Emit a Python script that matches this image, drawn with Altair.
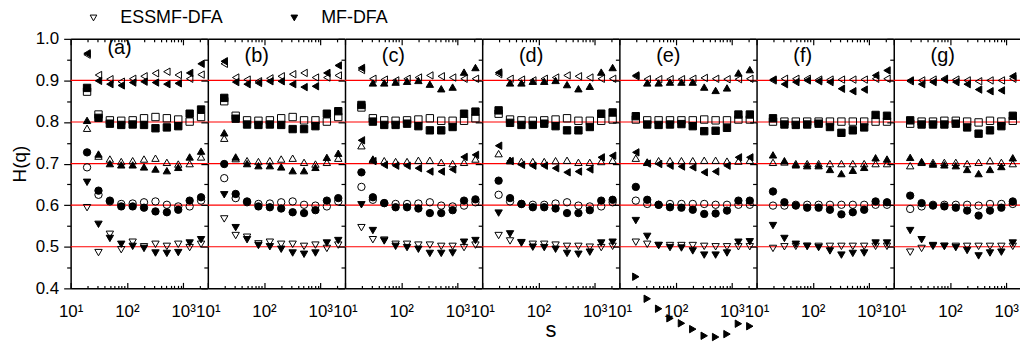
import altair as alt
import pandas as pd

# ---------------- data ----------------
S = [19.6, 31.3, 49.9, 79.5, 127, 202, 323, 515, 821, 1310, 2090]
LEVELS = [0.5, 0.6, 0.7, 0.8, 0.9]
METHODS = ["ESSMF-DFA", "MF-DFA"]
PANEL_KEYS = ["a", "b", "c", "d", "e", "f", "g"]
PANEL_LABELS = ["(a)", "(b)", "(c)", "(d)", "(e)", "(f)", "(g)"]
X_DOMAIN = [10, 2700]
Y_DOMAIN = [0.4, 1.0]
X_TICKS = [10, 20, 30, 40, 50, 60, 70, 80, 90, 100, 200, 300, 400, 500, 600,
           700, 800, 900, 1000, 2000]
Y_TICKS = [0.4, 0.45, 0.5, 0.55, 0.6, 0.65, 0.7, 0.75, 0.8, 0.85, 0.9, 0.95, 1.0]

E, M = "ESSMF-DFA", "MF-DFA"
N = None

PANEL_A = {
    (E, 0.9): [0.962, 0.913, 0.903, 0.897, 0.904, 0.910, 0.917, 0.921, 0.913, 0.904, 0.914],
    (M, 0.9): [0.965, 0.899, 0.891, 0.888, 0.895, 0.897, 0.895, 0.891, 0.893, 0.918, 0.940],
    (E, 0.8): [0.873, 0.818, 0.804, 0.803, 0.804, 0.809, 0.812, 0.809, 0.806, 0.801, 0.812],
    (M, 0.8): [0.882, 0.810, 0.796, 0.793, 0.794, 0.793, 0.785, 0.787, 0.790, 0.820, 0.830],
    (E, 0.7): [0.785, 0.718, 0.711, 0.705, 0.707, 0.711, 0.713, 0.703, 0.699, 0.700, 0.716],
    (M, 0.7): [0.804, 0.723, 0.700, 0.697, 0.697, 0.692, 0.687, 0.683, 0.691, 0.716, 0.730],
    (E, 0.6): [0.691, 0.625, 0.609, 0.603, 0.604, 0.607, 0.609, 0.601, 0.597, 0.597, 0.611],
    (M, 0.6): [0.727, 0.635, 0.611, 0.597, 0.597, 0.594, 0.585, 0.583, 0.589, 0.611, 0.619],
    (E, 0.5): [0.594, 0.486, 0.530, 0.493, 0.511, 0.500, 0.506, 0.501, 0.506, 0.498, 0.506],
    (M, 0.5): [0.655, 0.554, 0.520, 0.506, 0.501, 0.496, 0.485, 0.484, 0.486, 0.509, 0.517],
}
PANEL_B = {
    (E, 0.9): [0.940, 0.907, 0.902, 0.898, 0.905, 0.910, 0.915, 0.918, 0.907, 0.907, 0.912],
    (M, 0.9): [0.946, 0.896, 0.891, 0.894, 0.898, 0.898, 0.891, 0.884, 0.886, 0.918, 0.936],
    (E, 0.8): [0.850, 0.815, 0.804, 0.803, 0.804, 0.809, 0.812, 0.804, 0.804, 0.801, 0.812],
    (M, 0.8): [0.858, 0.808, 0.794, 0.793, 0.794, 0.793, 0.783, 0.783, 0.790, 0.820, 0.826],
    (E, 0.7): [0.761, 0.712, 0.707, 0.705, 0.707, 0.711, 0.713, 0.703, 0.699, 0.703, 0.713],
    (M, 0.7): [0.774, 0.716, 0.700, 0.695, 0.695, 0.692, 0.683, 0.683, 0.691, 0.715, 0.725],
    (E, 0.6): [0.665, 0.617, 0.607, 0.603, 0.604, 0.607, 0.609, 0.601, 0.599, 0.597, 0.609],
    (M, 0.6): [0.699, 0.627, 0.609, 0.597, 0.595, 0.592, 0.583, 0.581, 0.588, 0.611, 0.617],
    (E, 0.5): [0.567, 0.527, 0.523, 0.507, 0.511, 0.506, 0.506, 0.501, 0.504, 0.496, 0.504],
    (M, 0.5): [0.625, 0.546, 0.517, 0.503, 0.500, 0.494, 0.485, 0.482, 0.485, 0.509, 0.515],
}
PANEL_C = {
    (E, 0.9): [0.925, 0.904, 0.902, 0.900, 0.904, 0.907, 0.912, 0.910, 0.907, 0.904, 0.904],
    (M, 0.9): [N, 0.894, 0.894, 0.896, 0.898, 0.900, 0.891, 0.880, 0.884, 0.920, 0.931],
    (E, 0.8): [0.835, 0.809, 0.804, 0.803, 0.804, 0.806, 0.809, 0.803, 0.803, 0.803, 0.809],
    (M, 0.8): [0.841, 0.801, 0.793, 0.793, 0.796, 0.790, 0.780, 0.780, 0.788, 0.820, 0.825],
    (E, 0.7): [0.743, 0.709, 0.707, 0.705, 0.705, 0.708, 0.708, 0.703, 0.700, 0.703, 0.711],
    (M, 0.7): [0.756, 0.706, 0.697, 0.695, 0.695, 0.689, 0.681, 0.681, 0.686, 0.716, 0.721],
    (E, 0.6): [0.644, 0.613, 0.605, 0.603, 0.603, 0.604, 0.607, 0.599, 0.597, 0.599, 0.607],
    (M, 0.6): [0.679, 0.619, 0.605, 0.595, 0.595, 0.592, 0.581, 0.581, 0.588, 0.611, 0.614],
    (E, 0.5): [0.546, 0.517, 0.516, 0.506, 0.506, 0.504, 0.504, 0.501, 0.501, 0.498, 0.504],
    (M, 0.5): [0.601, 0.539, 0.514, 0.501, 0.498, 0.494, 0.484, 0.484, 0.485, 0.511, 0.515],
}
PANEL_D = {
    (E, 0.9): [0.915, 0.904, 0.902, 0.900, 0.904, 0.907, 0.912, 0.910, 0.907, 0.904, 0.904],
    (M, 0.9): [N, 0.894, 0.894, 0.898, 0.898, 0.900, 0.890, 0.880, 0.886, 0.920, 0.931],
    (E, 0.8): [0.820, 0.806, 0.804, 0.803, 0.804, 0.806, 0.809, 0.803, 0.803, 0.803, 0.806],
    (M, 0.8): [0.828, 0.798, 0.793, 0.793, 0.796, 0.790, 0.780, 0.780, 0.788, 0.820, 0.823],
    (E, 0.7): [0.724, 0.707, 0.705, 0.705, 0.705, 0.707, 0.708, 0.703, 0.703, 0.705, 0.708],
    (M, 0.7): [0.743, 0.706, 0.697, 0.695, 0.695, 0.689, 0.679, 0.681, 0.686, 0.715, 0.719],
    (E, 0.6): [0.625, 0.609, 0.603, 0.601, 0.601, 0.604, 0.607, 0.599, 0.597, 0.597, 0.607],
    (M, 0.6): [0.659, 0.617, 0.603, 0.595, 0.595, 0.592, 0.581, 0.581, 0.588, 0.611, 0.613],
    (E, 0.5): [0.527, 0.514, 0.510, 0.506, 0.506, 0.504, 0.501, 0.501, 0.499, 0.498, 0.501],
    (M, 0.5): [0.581, 0.531, 0.509, 0.499, 0.498, 0.494, 0.484, 0.482, 0.487, 0.509, 0.511],
}
PANEL_E = {
    (E, 0.9): [0.910, 0.903, 0.903, 0.903, 0.903, 0.904, 0.906, 0.904, 0.903, 0.903, 0.904],
    (M, 0.9): [N, 0.894, 0.894, 0.896, 0.896, 0.896, 0.884, 0.876, 0.882, 0.918, 0.926],
    (E, 0.8): [0.806, 0.804, 0.804, 0.804, 0.804, 0.804, 0.806, 0.804, 0.804, 0.806, 0.806],
    (M, 0.8): [0.814, 0.794, 0.793, 0.794, 0.795, 0.790, 0.778, 0.779, 0.786, 0.818, 0.818],
    (E, 0.7): [0.713, 0.704, 0.707, 0.707, 0.707, 0.707, 0.708, 0.708, 0.706, 0.706, 0.708],
    (M, 0.7): [0.727, 0.700, 0.699, 0.695, 0.693, 0.691, 0.679, 0.681, 0.695, 0.715, 0.715],
    (E, 0.6): [0.611, 0.603, 0.601, 0.603, 0.603, 0.603, 0.603, 0.601, 0.601, 0.601, 0.601],
    (M, 0.6): [0.644, 0.613, 0.601, 0.595, 0.594, 0.589, 0.579, 0.580, 0.587, 0.611, 0.611],
    (E, 0.5): [0.511, 0.506, 0.503, 0.503, 0.503, 0.503, 0.501, 0.500, 0.500, 0.500, 0.500],
    (M, 0.5): [0.563, 0.525, 0.503, 0.498, 0.497, 0.490, 0.480, 0.480, 0.485, 0.511, 0.512],
}
PANEL_F = {
    (E, 0.9): [0.900, 0.904, 0.904, 0.904, 0.902, 0.902, 0.902, 0.902, 0.902, 0.904, 0.904],
    (M, 0.9): [0.902, 0.891, 0.896, 0.900, 0.898, 0.896, 0.880, 0.874, 0.878, 0.912, 0.924],
    (E, 0.8): [0.801, 0.801, 0.801, 0.801, 0.801, 0.801, 0.801, 0.801, 0.801, 0.801, 0.801],
    (M, 0.8): [0.809, 0.794, 0.793, 0.794, 0.796, 0.788, 0.774, 0.780, 0.787, 0.817, 0.815],
    (E, 0.7): [0.703, 0.704, 0.700, 0.700, 0.700, 0.700, 0.700, 0.700, 0.700, 0.700, 0.700],
    (M, 0.7): [0.721, 0.707, 0.697, 0.695, 0.695, 0.686, 0.676, 0.684, 0.691, 0.714, 0.711],
    (E, 0.6): [0.599, 0.599, 0.601, 0.601, 0.601, 0.601, 0.601, 0.601, 0.601, 0.601, 0.601],
    (M, 0.6): [0.633, 0.607, 0.599, 0.594, 0.594, 0.589, 0.578, 0.583, 0.589, 0.609, 0.607],
    (E, 0.5): [0.496, 0.500, 0.501, 0.501, 0.501, 0.501, 0.501, 0.501, 0.501, 0.501, 0.501],
    (M, 0.5): [0.551, 0.520, 0.506, 0.501, 0.498, 0.490, 0.480, 0.484, 0.485, 0.509, 0.509],
}
PANEL_G = {
    (E, 0.9): [0.898, 0.900, 0.902, 0.904, 0.902, 0.900, 0.898, 0.900, 0.900, 0.904, 0.904],
    (M, 0.9): [0.900, 0.891, 0.896, 0.902, 0.896, 0.891, 0.878, 0.874, 0.876, 0.910, 0.922],
    (E, 0.8): [0.796, 0.801, 0.801, 0.803, 0.803, 0.801, 0.799, 0.803, 0.801, 0.803, 0.803],
    (M, 0.8): [0.804, 0.794, 0.794, 0.794, 0.796, 0.787, 0.772, 0.780, 0.790, 0.815, 0.811],
    (E, 0.7): [0.695, 0.703, 0.703, 0.703, 0.703, 0.700, 0.703, 0.707, 0.703, 0.700, 0.703],
    (M, 0.7): [0.715, 0.705, 0.699, 0.697, 0.695, 0.686, 0.676, 0.686, 0.693, 0.714, 0.713],
    (E, 0.6): [0.591, 0.597, 0.601, 0.601, 0.601, 0.601, 0.599, 0.603, 0.603, 0.603, 0.601],
    (M, 0.6): [0.623, 0.605, 0.599, 0.597, 0.594, 0.587, 0.575, 0.587, 0.594, 0.609, 0.607],
    (E, 0.5): [0.487, 0.496, 0.501, 0.501, 0.501, 0.501, 0.501, 0.501, 0.501, 0.501, 0.503],
    (M, 0.5): [0.539, 0.517, 0.503, 0.501, 0.498, 0.491, 0.478, 0.485, 0.487, 0.509, 0.509],
}
PANELS = {"a": PANEL_A, "b": PANEL_B, "c": PANEL_C, "d": PANEL_D,
          "e": PANEL_E, "f": PANEL_F, "g": PANEL_G}

SHAPE_OF_LEVEL = {0.9: "triangle-left", 0.8: "square", 0.7: "triangle-up",
                  0.6: "circle", 0.5: "triangle-down"}
# in these panels the MF-DFA markers of the 0.9 and 0.7 rows are swapped
SWAPPED_PANELS = ["c", "d", "e"]
SWAPPED_SHAPE = {0.9: "triangle-up", 0.7: "triangle-left"}

# a few single MF-DFA markers of other shapes
EXTRA_PANEL = ["c", "c", "d", "d", "e", "e"]
EXTRA_SHAPE = ["triangle-left", "triangle-up", "triangle-left", "triangle-up",
               "triangle-left", "triangle-up"]
EXTRA_COL = [0, 1, 0, 1, 0, 1]
EXTRA_H = [0.930, 0.711, 0.919, 0.708, 0.912, 0.703]

# the extra filled right-triangle series of panel (e)
E_RIGHT = [0.428, 0.375, 0.351, 0.328, 0.316, 0.302, 0.286, 0.283, 0.290, 0.315, 0.309]

# ---------------- table ----------------
rows = []
for key in PANEL_KEYS:
    for (method, level), vals in PANELS[key].items():
        shape = SHAPE_OF_LEVEL[level]
        if method == M and key in SWAPPED_PANELS and level in SWAPPED_SHAPE:
            shape = SWAPPED_SHAPE[level]
        for s, h in zip(S, vals):
            if h is not None:
                rows.append(dict(panel=key, method=method, shape=shape, s=s, H=h))
for p, shp, c, h in zip(EXTRA_PANEL, EXTRA_SHAPE, EXTRA_COL, EXTRA_H):
    rows.append(dict(panel=p, method=M, shape=shp, s=S[c], H=h))
for s, h in zip(S, E_RIGHT):
    rows.append(dict(panel="e", method=M, shape="triangle-right", s=s, H=h))
df = pd.DataFrame(rows)

rule_df = pd.DataFrame({"H": LEVELS, "x0": [X_DOMAIN[0]] * len(LEVELS),
                        "x1": [X_DOMAIN[1]] * len(LEVELS)})

# ---------------- style ----------------
FONT = "Liberation Sans"
W, H = 137.5, 251
MAJOR_X = "datum.value == 10 || datum.value == 100 || datum.value == 1000"
MAJOR_Y = "abs(datum.value * 10 - round(datum.value * 10)) < 0.001"
X_LABELS = ("datum.value == 10 ? '10\u00b9' : datum.value == 100 ? '10\u00b2' : "
            "datum.value == 1000 ? '10\u00b3' : ''")
Y_LABELS = f"{MAJOR_Y} ? format(datum.value, '.1f') : ''"

xscale = alt.Scale(type="log", domain=X_DOMAIN, nice=False)
yscale = alt.Scale(domain=Y_DOMAIN, nice=False, zero=False)


def xtick_size(major, minor):
    return {"condition": {"test": MAJOR_X, "value": major}, "value": minor}


def ytick_size(major, minor):
    return {"condition": {"test": MAJOR_Y, "value": major}, "value": minor}


def axis_bottom_labels(title):
    kw = dict(orient="bottom", values=X_TICKS, labelExpr=X_LABELS, ticks=False,
              domain=True, domainColor="black", domainWidth=1.5, grid=False,
              labelFont=FONT, labelFontSize=17, labelColor="black",
              labelPadding=15, labelFlush=False, labelOverlap=False)
    if title:
        kw.update(title=title, titleFont=FONT, titleFontSize=22,
                  titleFontWeight="normal", titleColor="black", titlePadding=0)
    else:
        kw.update(title=None)
    return alt.Axis(**kw)


axis_bottom_ticks = alt.Axis(orient="top", offset=-H, values=X_TICKS, labels=False,
                             domain=False, ticks=True, tickSize=xtick_size(6, 3),
                             tickColor="black", tickWidth=1.2, grid=False, title=None)
axis_top = alt.Axis(orient="bottom", offset=-H, values=X_TICKS, labels=False,
                    domain=True, domainColor="black", domainWidth=1.5, ticks=True,
                    tickSize=xtick_size(6, 3), tickColor="black", tickWidth=1.2,
                    grid=False, title=None)


def axis_left(first):
    kw = dict(orient="left", values=Y_TICKS, domain=True, domainColor="black",
              domainWidth=1.5, ticks=True, tickSize=ytick_size(7, 4),
              tickColor="black", tickWidth=1.2, grid=False)
    if first:
        kw.update(labels=True, labelExpr=Y_LABELS, labelFont=FONT, labelFontSize=17,
                  labelColor="black", labelPadding=5, title="H(q)", titleFont=FONT,
                  titleFontSize=19, titleFontWeight="normal", titleColor="black",
                  titlePadding=6)
    else:
        kw.update(labels=False, title=None)
    return alt.Axis(**kw)


legend = alt.Legend(title=None, orient="none", legendX=14, legendY=-30,
                    direction="horizontal", symbolType="triangle-down",
                    symbolSize=45, symbolStrokeColor="black", symbolStrokeWidth=1,
                    labelFont=FONT, labelFontSize=18, labelColor="black",
                    labelOffset=18, columnPadding=62, padding=0)
fill = alt.Fill("method:N", scale=alt.Scale(domain=METHODS, range=["transparent", "black"]),
                legend=legend)


def make_panel(i, key):
    sub = df[df.panel == key]
    rules = alt.Chart(rule_df).mark_rule(color="#ff0000", strokeWidth=1.2).encode(
        x=alt.X("x0:Q", scale=xscale, axis=axis_top),
        x2="x1:Q",
        y=alt.Y("H:Q", scale=yscale, axis=None),
    )
    base_mark = dict(filled=True, size=55, stroke="black", strokeWidth=1, opacity=1)
    open_pts = alt.Chart(sub[sub.method == E]).mark_point(**base_mark).encode(
        x=alt.X("s:Q", scale=xscale, axis=axis_bottom_labels("s" if key == "d" else None)),
        y=alt.Y("H:Q", scale=yscale, axis=axis_left(i == 0)),
        shape=alt.Shape("shape:N", scale=None, legend=None),
        fill=fill,
    )
    filled_pts = alt.Chart(sub[sub.method == M]).mark_point(**base_mark).encode(
        x=alt.X("s:Q", scale=xscale, axis=axis_bottom_ticks),
        y=alt.Y("H:Q", scale=yscale, axis=None),
        shape=alt.Shape("shape:N", scale=None, legend=None),
        fill=fill,
    )
    title = alt.TitleParams(text=PANEL_LABELS[i], anchor="start", frame="group",
                            orient="top", offset=0, dx=37, dy=28, baseline="top",
                            font=FONT, fontSize=20, fontWeight="normal", color="black")
    return (alt.layer(rules, open_pts, filled_pts)
            .resolve_axis(x="independent", y="independent")
            .properties(width=W, height=H, title=title))


panels = [make_panel(i, k) for i, k in enumerate(PANEL_KEYS)]

chart = (alt.hconcat(*panels, spacing=0, bounds="flush")
         .properties(autosize=alt.AutoSizeParams(type="none"),
                     padding={"left": 63, "top": 29.3, "right": 955, "bottom": 302})
         .configure_view(stroke=None))

chart.save("out.html", embed_options={"renderer": "svg", "actions": False})
